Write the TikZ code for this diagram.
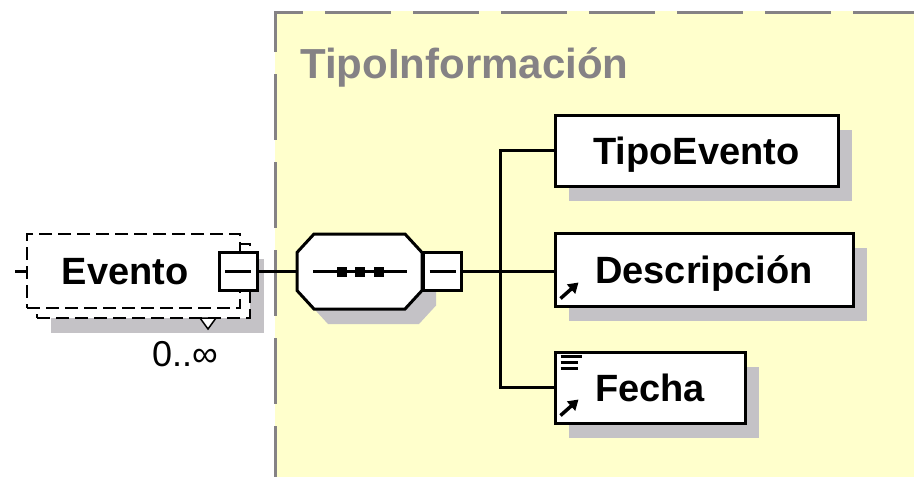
\documentclass[tikz,border=0pt]{standalone}
\usepackage{fontspec}
\setmainfont{Liberation Sans}
\usetikzlibrary{shadows}
\usetikzlibrary{arrows.meta}

\definecolor{infoyellow}{RGB}{255,255,204}
\definecolor{infogray}{RGB}{133,130,133}
\definecolor{shadowgray}{RGB}{196,194,198}

\tikzset{
  eltext/.style={inner sep=0pt, text height=27pt, text depth=0pt,
    font=\bfseries\fontsize{38}{40}\selectfont},
  boxshadow/.style={drop shadow={shadow xshift=14pt, shadow yshift=-15pt,
    opacity=1, fill=shadowgray}},
  elem/.style={eltext, draw, line width=3pt, fill=white,
    minimum height=71pt, boxshadow},
  evbox/.style={draw, line width=2.5pt, dash pattern=on 13pt off 6pt,
    fill=white, minimum width=213pt, minimum height=74pt},
  btn/.style={draw, line width=3pt, fill=white, minimum size=38pt,
    inner sep=0pt, path picture={%
      \draw[line width=3pt] ([xshift=6pt]path picture bounding box.west)
        -- ([xshift=-6pt]path picture bounding box.east);}},
  conn/.style={line width=3pt},
  infoborder/.style={infogray, line width=3pt, dash pattern=on 66pt off 22pt},
  icon/.style={line width=3.5pt, -{Triangle[length=10pt,width=12pt]}},
}
%%% octagon of the sequence, centred at (#1,#2)
\newcommand\seqoutline[2]{(#1-62.5,#2-19) -- (#1-45.5,#2-37.5) -- (#1+45.5,#2-37.5)
  -- (#1+62.5,#2-19) -- (#1+62.5,#2+19) -- (#1+45.5,#2+37.5)
  -- (#1-45.5,#2+37.5) -- (#1-62.5,#2+19) -- cycle}

\begin{document}
\begin{tikzpicture}[x=1pt, y=-1pt]
\useasboundingbox (0,0) rectangle (914,477);
%%% complex type area
\fill[infoyellow] (275,11) rectangle (914,477);
\draw[infoborder, dash phase=25pt] (275.5,11) -- (275.5,477);
\draw[infoborder, dash phase=37pt] (274,12.5) -- (914,12.5);
\node[inner sep=0pt, anchor=base west, infogray,
  font=\bfseries\fontsize{42}{44}\selectfont] (infoname) at (300,78) {TipoInformación};

%%% element Evento with occurrences
\node[evbox, boxshadow] (eventoback) at (143.5,281) {};
\node[evbox] (evento) at (133.5,271) {};
\node[eltext] (eventoname) at (125,271) {Evento};
\node[btn] (evbtn) at (238,271.5) {};
\draw[line width=1.5pt, fill=white] (200,318) -- (216,318) -- (208,329) -- cycle;
\node[inner sep=0pt, font=\fontsize{36}{38}\selectfont] (occurs) at (185,354) {0..∞};

%%% sequence
\fill[shadowgray] \seqoutline{373.5}{286.5};
\draw[line width=3pt, fill=white] \seqoutline{359.5}{271.5};
\node[minimum width=125pt, minimum height=75pt, inner sep=0pt] (seq) at (359.5,271.5) {};
\draw[line width=3pt] (313,271.5) -- (407,271.5);
\foreach \x in {342,359.5,379}{%
  \fill (\x-5,266.5) rectangle (\x+5,276.5);}
\node[btn] (seqbtn) at (442.5,271.5) {};

%%% child elements
\node[elem, minimum width=283pt] (tipo) at (696.5,150.5) {TipoEvento};
\node[elem, minimum width=298pt, minimum height=73pt] (desc) at (704,269.5) {Descripción};
\node[elem, minimum width=190pt] (fecha) at (650,387.5) {Fecha};

%%% icons
\draw[icon] ([shift={(7pt,9pt)}]desc.south west) -- ++(18pt,16pt);
\draw[icon] ([shift={(7pt,9pt)}]fecha.south west) -- ++(18pt,16pt);
\foreach \dy/\len in {6/21,12/17,18/17}{%
  \draw[line width=2.5pt] ([shift={(7pt,-\dy pt)}]fecha.north west) -- ++(\len pt,0);}

%%% connectors
\coordinate (stub) at (15,271);
\coordinate (bus) at (500,271.5);
\draw[conn] (stub) -- (evento.west);
\draw[conn] (evbtn.east) -- (seq.west);
\draw[conn] (seqbtn.east) -- (bus);
\draw[conn] (tipo.west) -| (bus) |- (fecha.west);
\draw[conn] (bus) -- (bus -| desc.west);
\end{tikzpicture}
\end{document}
